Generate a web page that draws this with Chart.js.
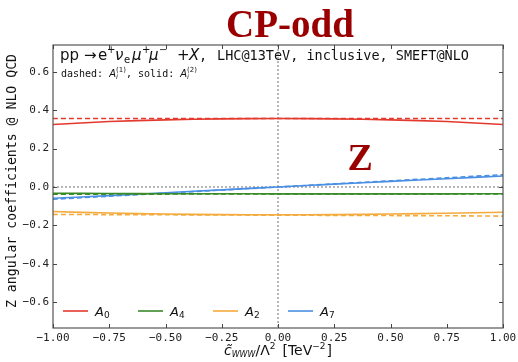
<!DOCTYPE html>
<html><head><meta charset="utf-8">
<script src="https://cdn.jsdelivr.net/npm/chart.js@4.4.1/dist/chart.umd.min.js"></script>
<style>html,body{margin:0;padding:0;background:#fff}#c{display:block}</style>
</head><body>
<div style="width:518px;height:362px"><canvas id="c" width="518" height="362"></canvas></div>
<script>
const xVals = [-1, -0.75, -0.5, -0.25, 0, 0.25, 0.5, 0.75, 1];
const A0_dashed = [0.357, 0.357, 0.357, 0.357, 0.357, 0.357, 0.357, 0.357, 0.357];
const A0_solid  = [0.326, 0.341, 0.350, 0.355, 0.357, 0.355, 0.350, 0.341, 0.326];
const A4_dashed = [-0.038, -0.037, -0.037, -0.036, -0.036, -0.036, -0.036, -0.036, -0.037];
const A4_solid  = [-0.033, -0.034, -0.035, -0.035, -0.036, -0.036, -0.036, -0.036, -0.035];
const A2_dashed = [-0.143, -0.144, -0.145, -0.146, -0.147, -0.148, -0.149, -0.150, -0.152];
const A2_solid  = [-0.128, -0.136, -0.141, -0.144, -0.145, -0.144, -0.141, -0.137, -0.132];
const A7_dashed = [-0.064, -0.048, -0.032, -0.016, 0.000, 0.016, 0.032, 0.048, 0.064];
const A7_solid  = [-0.059, -0.045, -0.030, -0.015, 0.000, 0.015, 0.029, 0.043, 0.057];
const xTicks = [-1, -0.75, -0.5, -0.25, 0, 0.25, 0.5, 0.75, 1];
const yTicks = [-0.6, -0.4, -0.2, 0, 0.2, 0.4, 0.6];

const COL = {A0:'#e4392e', A4:'#3a8a28', A2:'#f4aa3c', A7:'#4a8fe3'};
const mono = '"DejaVu Sans Mono", monospace';
const sans = '"DejaVu Sans", sans-serif';

function pts(arr){ return xVals.map((x,i)=>({x:x,y:arr[i]})); }
function ds(label, arr, color, dashed){
  return {label:label, data:pts(arr), borderColor:color, backgroundColor:color,
    borderWidth:1.6, borderDash: dashed?[5,3]:[], pointRadius:0, tension:0.3, fill:false};
}

const decor = {
  id:'decor',
  beforeDatasetsDraw(chart){
    const ctx = chart.ctx, xs = chart.scales.x, ys = chart.scales.y, a = chart.chartArea;
    ctx.save();
    ctx.strokeStyle = '#888'; ctx.lineWidth = 1.2; ctx.setLineDash([2,2]);
    const x0 = xs.getPixelForValue(0), y0 = ys.getPixelForValue(0);
    ctx.beginPath(); ctx.moveTo(x0, a.top); ctx.lineTo(x0, a.bottom); ctx.stroke();
    ctx.beginPath(); ctx.moveTo(a.left, y0); ctx.lineTo(a.right, y0); ctx.stroke();
    ctx.restore();
  },
  afterDraw(chart){
    const ctx = chart.ctx, xs = chart.scales.x, ys = chart.scales.y, a = chart.chartArea;
    ctx.save();
    // frame
    ctx.strokeStyle = '#555'; ctx.lineWidth = 1.2; ctx.setLineDash([]);
    ctx.strokeRect(a.left, a.top, a.right-a.left, a.bottom-a.top);
    // inward ticks
    ctx.strokeStyle = '#444'; ctx.lineWidth = 1;
    xTicks.forEach(v=>{ const p = Math.round(xs.getPixelForValue(v))+0.5;
      ctx.beginPath(); ctx.moveTo(p,a.bottom); ctx.lineTo(p,a.bottom-4); ctx.stroke();
      ctx.beginPath(); ctx.moveTo(p,a.top); ctx.lineTo(p,a.top+4); ctx.stroke(); });
    yTicks.forEach(v=>{ const p = Math.round(ys.getPixelForValue(v))+0.5;
      ctx.beginPath(); ctx.moveTo(a.left,p); ctx.lineTo(a.left+4,p); ctx.stroke();
      ctx.beginPath(); ctx.moveTo(a.right,p); ctx.lineTo(a.right-4,p); ctx.stroke(); });

    // Title
    ctx.fillStyle = '#9a0000';
    ctx.font = 'bold 39px "Liberation Serif", "DejaVu Serif", serif';
    ctx.textAlign = 'center'; ctx.textBaseline = 'alphabetic';
    ctx.fillText('CP-odd', 290, 37);
    // Z label
    ctx.font = 'bold 38px "Liberation Serif", serif';
    ctx.fillText('Z', xs.getPixelForValue(0.365), ys.getPixelForValue(0.09));

    // header (math part placed piecewise)
    ctx.fillStyle = '#111'; ctx.textAlign = 'left';
    const hb = 60;
    const put = (t, f, x, dy) => { ctx.font = f; ctx.fillText(t, x, hb + (dy||0)); };
    const m15 = '15px ' + sans, i15 = 'italic 15px ' + sans, s10 = '10px ' + sans;
    put('pp', m15, 60);
    put('\u2192', m15, 84);
    put('e', m15, 98);
    put('+', s10, 107, -7);
    put('\u03BD', i15, 115);
    put('e', s10, 124, 3);
    put('\u03BC', i15, 132);
    put('+', s10, 142, -7);
    put('\u03BC', i15, 149);
    put('\u2212', s10, 159, -7);
    put('+', m15, 177);
    put('X', i15, 189);
    put(',', '13.5px ' + mono, 199);
    put('LHC@13TeV, inclusive, SMEFT@NLO', '13.5px ' + mono, 217);

    // second line
    let x = 61; const yb = 77;
    function seg(t, font, dy){ ctx.font = font; ctx.fillText(t, x, yb+(dy||0)); x += ctx.measureText(t).width; }
    const f10 = '10px ' + mono, fi = 'italic 10px ' + sans, fs = '7px ' + sans, fsi='italic 7px ' + sans;
    seg('dashed: ', f10); seg('A', fi);
    let xs0 = x; seg('(1)', fs, -5); x = xs0; seg('i', fsi, 2); x = xs0 + 10;
    seg(', solid: ', f10); seg('A', fi);
    xs0 = x; seg('(2)', fs, -5); x = xs0; seg('i', fsi, 2);

    // legend
    const items = [['A','0',COL.A0,63],['A','4',COL.A4,138],['A','2',COL.A2,213],['A','7',COL.A7,288]];
    const ly = 311;
    items.forEach(it=>{
      ctx.strokeStyle = it[2]; ctx.lineWidth = 1.6;
      ctx.beginPath(); ctx.moveTo(it[3], ly); ctx.lineTo(it[3]+25, ly); ctx.stroke();
      ctx.fillStyle = '#111';
      ctx.font = 'italic 13px ' + sans;
      ctx.fillText(it[0], it[3]+32, ly+5);
      const w = ctx.measureText(it[0]).width;
      ctx.font = '9px ' + sans;
      ctx.fillText(it[1], it[3]+32+w, ly+7);
    });

    // x axis title
    ctx.fillStyle = '#111';
    let tx = 224; const ty = 355;
    ctx.font = 'italic 14px ' + sans;
    ctx.fillText('c\u0303', tx, ty); tx += ctx.measureText('c').width;
    ctx.font = 'italic 8px ' + sans;
    ctx.fillText('WWW', tx, ty+2); tx += ctx.measureText('WWW').width;
    ctx.font = '14px ' + sans;
    ctx.fillText('/\u039B', tx, ty); tx += ctx.measureText('/\u039B').width;
    ctx.font = '9px ' + sans;
    ctx.fillText('2', tx, ty-6); tx += ctx.measureText('2').width + 7;
    ctx.font = '14px ' + sans;
    ctx.fillText('[TeV', tx, ty); tx += ctx.measureText('[TeV').width;
    ctx.font = '9px ' + sans;
    ctx.fillText('\u22122', tx, ty-6); tx += ctx.measureText('\u22122').width + 1;
    ctx.font = '14px ' + sans;
    ctx.fillText(']', tx, ty);

    // y axis title
    ctx.save();
    ctx.translate(13, 181);
    ctx.rotate(-Math.PI/2);
    ctx.textAlign = 'center'; ctx.textBaseline = 'middle';
    ctx.font = '13.2px ' + mono;
    ctx.fillText('Z angular coefficients @ NLO QCD', 0, 0);
    ctx.restore();
    ctx.restore();
  }
};

const fmtX = v => (v<0?'\u2212':'') + Math.abs(v).toFixed(2);
const fmtY = v => (v<-1e-9?'\u2212':'') + Math.abs(v).toFixed(1);

new Chart(document.getElementById('c'), {
  type:'line',
  data:{ datasets:[
    ds('A0 dashed', A0_dashed, COL.A0, true), ds('A0', A0_solid, COL.A0, false),
    ds('A4 dashed', A4_dashed, COL.A4, true), ds('A4', A4_solid, COL.A4, false),
    ds('A2 dashed', A2_dashed, COL.A2, true), ds('A2', A2_solid, COL.A2, false),
    ds('A7 dashed', A7_dashed, COL.A7, true), ds('A7', A7_solid, COL.A7, false)
  ]},
  options:{
    responsive:false, animation:false, devicePixelRatio:1,
    layout:{padding:{top:45, right:15, left:0, bottom:0}},
    plugins:{legend:{display:false}, tooltip:{enabled:false}, title:{display:false}},
    scales:{
      x:{ type:'linear', min:-1, max:1,
        afterBuildTicks: s=>{ s.ticks = xTicks.map(v=>({value:v})); },
        afterFit: s=>{ s.height = 34; s.paddingRight = 0; s.paddingLeft = 0; },
        grid:{display:false, drawTicks:false}, border:{display:false},
        ticks:{ callback:fmtX, color:'#222', font:{family:mono, size:11}, padding:4, maxRotation:0, autoSkip:false }
      },
      y:{ type:'linear', min:-0.735, max:0.74,
        afterBuildTicks: s=>{ s.ticks = yTicks.map(v=>({value:v})); },
        afterFit: s=>{ s.width = 53; s.paddingTop = 0; s.paddingBottom = 0; },
        grid:{display:false, drawTicks:false}, border:{display:false},
        ticks:{ callback:fmtY, color:'#222', font:{family:mono, size:11}, padding:4, autoSkip:false }
      }
    }
  },
  plugins:[decor]
});
</script>
</body></html>
